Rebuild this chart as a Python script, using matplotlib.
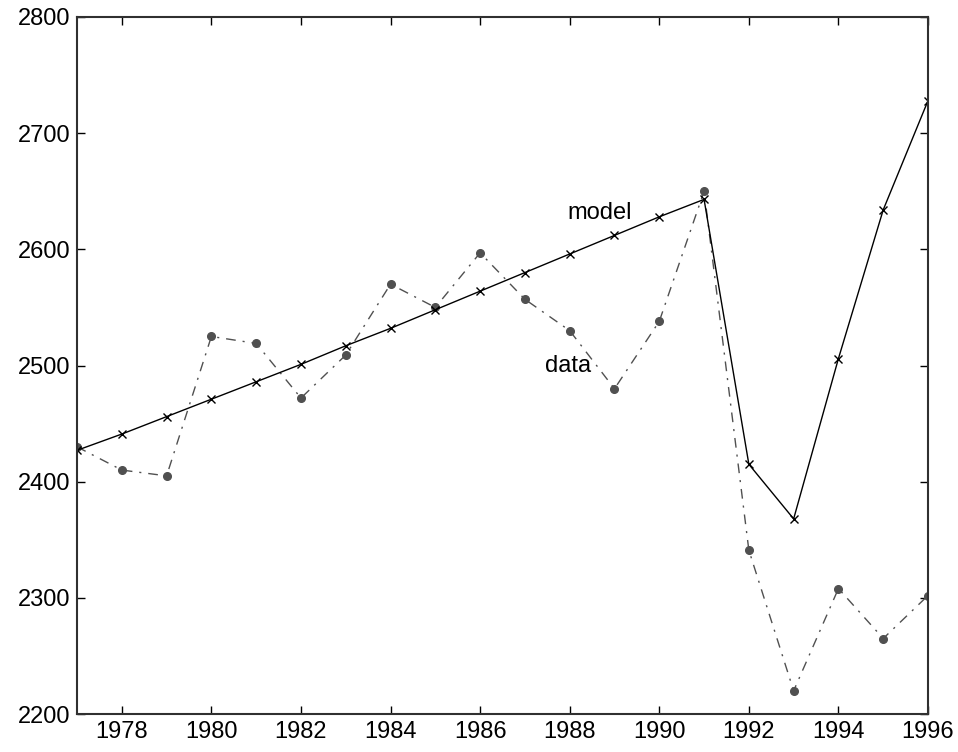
import matplotlib

matplotlib.use("Agg")
import matplotlib.pyplot as plt

plt.rcParams["font.family"] = ["Liberation Sans", "DejaVu Sans"]

years = list(range(1977, 1997))
data = [2430, 2410, 2405, 2525, 2519, 2472, 2509, 2570, 2550, 2597,
        2557, 2530, 2480, 2538, 2650, 2341, 2220, 2308, 2265, 2302]
model = [2427, 2441, 2456, 2471, 2486, 2501, 2517, 2532, 2548, 2564,
         2580, 2596, 2612, 2628, 2643, 2415, 2368, 2506, 2634, 2728]
xticks = list(range(1978, 1997, 2))
yticks = [2200, 2300, 2400, 2500, 2600, 2700, 2800]

fig = plt.figure(figsize=(9.58, 7.52), dpi=100)
ax = fig.add_axes([0.0804, 0.0505, 0.8883, 0.9269])

# data: dash-dot grey with filled dots
ax.plot(years, data, color="#505050", lw=1.0, ls=(0, (7, 5, 1.5, 5)),
        marker="o", ms=5.5, mfc="#505050", mec="#505050")
# model: solid black with x marks
ax.plot(years, model, color="black", lw=1.0, marker="x", ms=6, mew=1.0)

ax.text(1987.95, 2631, "model", fontsize=17, va="center", ha="left")
ax.text(1987.45, 2500, "data", fontsize=17, va="center", ha="left")

ax.set_xlim(1977, 1996)
ax.set_ylim(2200, 2800)
ax.set_xticks(xticks)
ax.set_yticks(yticks)
ax.tick_params(direction="in", length=6, width=1, labelsize=17,
               top=True, right=True, pad=5)
for s in ax.spines.values():
    s.set_linewidth(1.5)
    s.set_color("#303030")

fig.savefig("out.png", dpi=100)
